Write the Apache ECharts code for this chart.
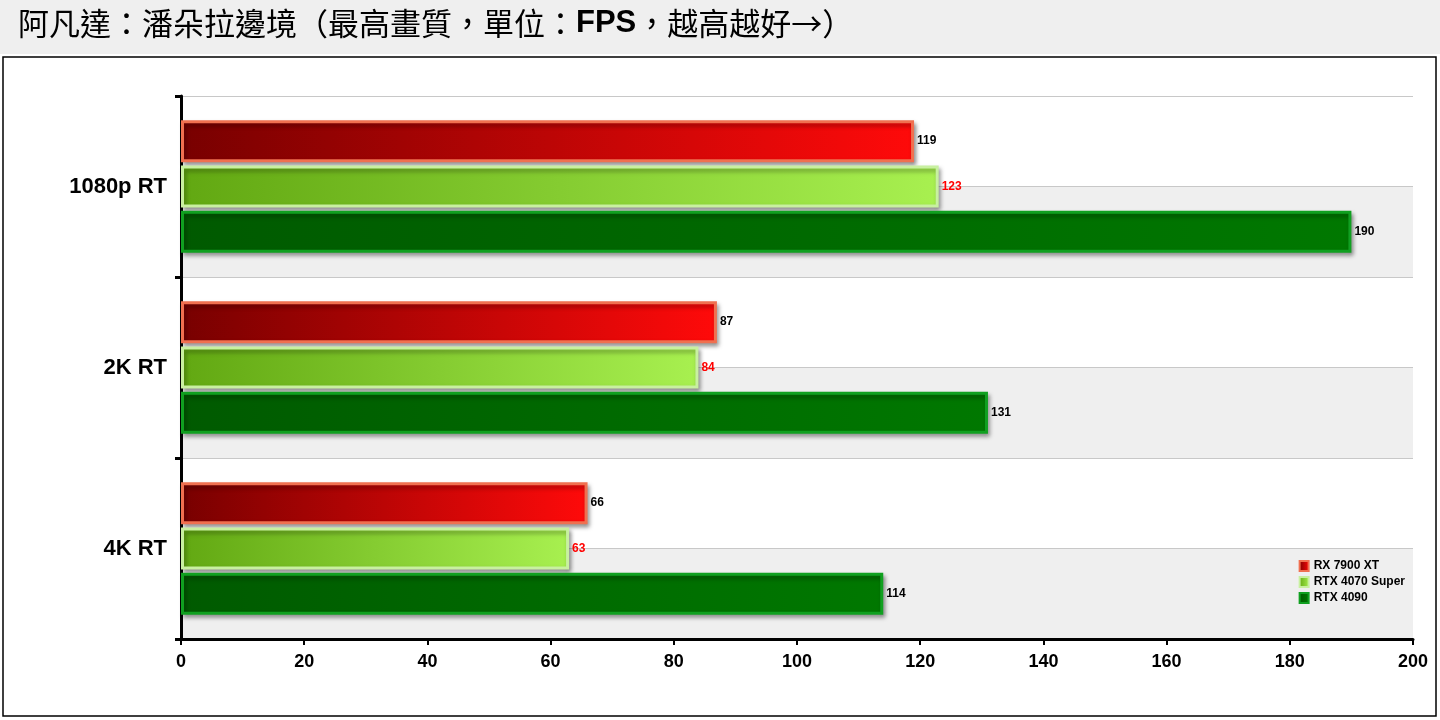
<!DOCTYPE html>
<html><head><meta charset="utf-8">
<script src="https://cdn.jsdelivr.net/npm/echarts@6/dist/echarts.min.js"></script>
<style>html,body{margin:0;padding:0;background:#fff}#c{width:1440px;height:720px}</style>
</head><body><div id="c"></div>
<script>
const categories = ['1080p RT', '2K RT', '4K RT'];
const seriesNames = ['RX 7900 XT', 'RTX 4070 Super', 'RTX 4090'];
const rx7900xt = [119, 87, 66];
const rtx4070s = [123, 84, 63];
const rtx4090 = [190, 131, 114];
const xTicks = [0, 20, 40, 60, 80, 100, 120, 140, 160, 180, 200];

const grad = (a, b) => new echarts.graphic.LinearGradient(0, 0, 1, 0, [{offset: 0, color: a}, {offset: 1, color: b}]);
const styles = [
  {fill: grad('#780000', '#ff0a0a'), border: '#f07050', label: '#000'},
  {fill: grad('#62a812', '#a8f050'), border: '#c8f0a0', label: '#ff0000'},
  {fill: grad('#005a00', '#007800'), border: '#10a020', label: '#000'}
];
const values = [rx7900xt, rtx4070s, rtx4090];
const chart = echarts.init(document.getElementById('c'));
chart.setOption({
  animation: false,
  graphic: [
    {type: 'rect', shape: {x: 0, y: 0, width: 1440, height: 54}, style: {fill: '#efefef'}, z: -10},
    {type: 'rect', shape: {x: 3, y: 57, width: 1433, height: 659}, style: {fill: 'none', stroke: '#000', lineWidth: 1.5}, z: -10},
    {type: 'text', left: 18, top: 8, style: {
      text: '{a|阿凡達：潘朵拉邊境（最高畫質，單位：}{b|FPS}{a|，越高越好→）}',
      rich: {a: {fontSize: 31, fontFamily: 'Noto Sans CJK TC', fill: '#000'},
             b: {fontSize: 31, fontWeight: 'bold', fontFamily: 'Liberation Sans', fill: '#000'}}}}
  ],
  grid: {left: 181, right: 27, top: 96, bottom: 81},
  legend: {orient: 'vertical', right: 30, top: 555, icon: 'rect', itemWidth: 9, itemHeight: 10, itemGap: 4,
    textStyle: {fontSize: 12, fontWeight: 'bold', fontFamily: 'Liberation Sans', color: '#000'},
    data: seriesNames},
  xAxis: {type: 'value', min: 0, max: 200, interval: 20,
    axisLine: {show: true, lineStyle: {color: '#000', width: 3}},
    axisTick: {show: true, length: 6, lineStyle: {color: '#000', width: 2}},
    splitLine: {show: false},
    axisLabel: {fontSize: 18, fontWeight: 'bold', fontFamily: 'Liberation Sans', color: '#000', margin: 14,
      formatter: v => xTicks.includes(v) ? String(v) : ''}},
  yAxis: [
    {type: 'category', data: categories, inverse: true,
      axisLine: {lineStyle: {color: '#000', width: 3}},
      axisTick: {show: true, length: 6, lineStyle: {color: '#000', width: 3}},
      axisLabel: {fontSize: 22, fontWeight: 'bold', fontFamily: 'Liberation Sans', color: '#000', margin: 14}},
    {type: 'category', data: ['a', 'b', 'c', 'd', 'e', 'f'], inverse: true, position: 'left',
      axisLine: {show: false}, axisTick: {show: false}, axisLabel: {show: false},
      splitLine: {show: true, lineStyle: {color: '#c8c8c8', width: 1}},
      splitArea: {show: true, areaStyle: {color: ['#ffffff', '#efefef']}}, z: -1}
  ],
  series: seriesNames.map((n, i) => ({
    name: n, type: 'bar', yAxisIndex: 0, data: values[i],
    barWidth: 42, barGap: '8%',
    itemStyle: {color: styles[i].fill, borderColor: styles[i].border, borderWidth: 3,
      shadowColor: 'rgba(0,0,0,0.35)', shadowBlur: 4, shadowOffsetX: 2, shadowOffsetY: 3},
    label: {show: true, position: 'right', distance: 3, fontSize: 12, fontWeight: 'bold',
      fontFamily: 'Liberation Sans', color: styles[i].label}
  }))
});
</script></body></html>
